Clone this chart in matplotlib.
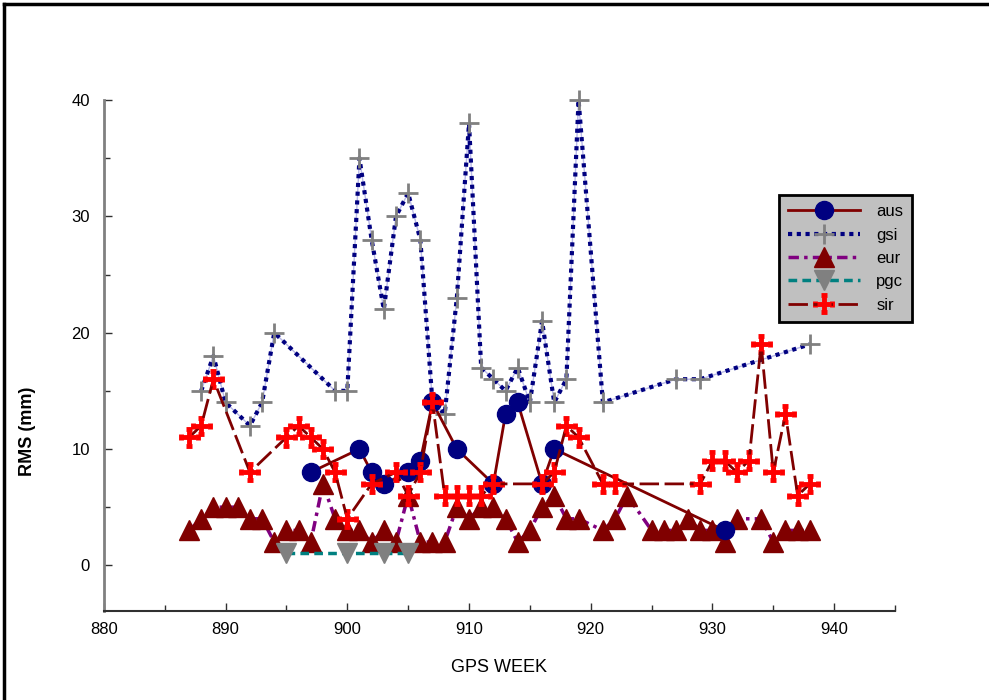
import matplotlib.pyplot as plt
from matplotlib.lines import Line2D
from matplotlib.ticker import MultipleLocator

plt.rcParams['font.family'] = ['Liberation Sans', 'DejaVu Sans']

# RMS per GPS week for each analysis centre
aus_week = [897, 901, 902, 903, 905, 906, 907, 909, 912, 913, 914, 916, 917, 931]
aus_rms = [8, 10, 8, 7, 8, 9, 14, 10, 7, 13, 14, 7, 10, 3]

gsi_week = [888, 889, 890, 892, 893, 894, 899, 900, 901, 902, 903, 904, 905, 906,
            907, 908, 909, 910, 911, 912, 913, 914, 915, 916, 917, 918, 919, 921,
            927, 929, 938]
gsi_rms = [15, 18, 14, 12, 14, 20, 15, 15, 35, 28, 22, 30, 32, 28,
           14, 13, 23, 38, 17, 16, 15, 17, 14, 21, 14, 16, 40, 14,
           16, 16, 19]

eur_week = [887, 888, 889, 890, 891, 892, 893, 894, 895, 896, 897, 898, 899, 900,
            901, 902, 903, 904, 905, 906, 907, 908, 909, 910, 911, 912, 913, 914,
            915, 916, 917, 918, 919, 921, 922, 923, 925, 926, 927, 928, 929, 930,
            931, 932, 934, 935, 936, 937, 938]
eur_rms = [3, 4, 5, 5, 5, 4, 4, 2, 3, 3, 2, 7, 4, 3,
           3, 2, 3, 2, 6, 2, 2, 2, 5, 4, 5, 5, 4, 2,
           3, 5, 6, 4, 4, 3, 4, 6, 3, 3, 3, 4, 3, 3,
           2, 4, 4, 2, 3, 3, 3]

pgc_week = [895, 900, 903, 905]
pgc_rms = [1.1, 1.1, 1.1, 1.1]

sir_week = [887, 888, 889, 892, 895, 896, 897, 898, 899, 900, 902, 904, 905, 906,
            907, 908, 909, 910, 911, 912, 916, 917, 918, 919, 921, 922, 929, 930,
            931, 932, 933, 934, 935, 936, 937, 938]
sir_rms = [11, 12, 16, 8, 11, 12, 11, 10, 8, 4, 7, 8, 6, 8,
           14, 6, 6, 6, 6, 7, 7, 8, 12, 11, 7, 7, 7, 9,
           9, 8, 9, 19, 8, 13, 6, 7]

fig = plt.figure(figsize=(9.89, 7.0), dpi=100)
ax = fig.add_axes([0.105, 0.1276, 0.8, 0.7295])

ax.plot(gsi_week, gsi_rms, color='#b8b8e8', lw=1, zorder=1, clip_on=False)
gsi_line, = ax.plot(gsi_week, gsi_rms, color='#000080', ls=(0, (1, 1.1)), lw=3,
                    marker='+', ms=14, mec='#808080', mew=2, zorder=2,
                    clip_on=False, label='gsi')
eur_line, = ax.plot(eur_week, eur_rms, color='#800080', ls=(0, (3, 1.5, 1, 1.5)), lw=2.5,
                    marker='^', ms=14, mfc='#800000', mec='#800000', zorder=3,
                    label='eur')
pgc_line, = ax.plot(pgc_week, pgc_rms, color='#008080', ls=(0, (2.5, 1.5)), lw=2.5,
                    marker='v', ms=15, mfc='#808080', mec='#808080', zorder=4,
                    label='pgc')
aus_line, = ax.plot(aus_week, aus_rms, color='#800000', ls='-', lw=2,
                    marker='o', ms=13, mfc='#000080', mec='#000080', zorder=5,
                    label='aus')
sir_err = ax.errorbar(sir_week, sir_rms, xerr=0.7, yerr=0.7, color='#800000',
                      ls=(0, (7, 2)), lw=2, marker='+', ms=10, mew=3.5, mec='red',
                      ecolor='red', elinewidth=1.5, capsize=2, capthick=1.5,
                      zorder=6, label='sir')

ax.set_xlim(880, 945)
ax.set_ylim(-3.9, 40)
ax.xaxis.set_major_locator(MultipleLocator(10))
ax.xaxis.set_minor_locator(MultipleLocator(5))
ax.yaxis.set_major_locator(MultipleLocator(10))
ax.yaxis.set_minor_locator(MultipleLocator(5))
ax.tick_params(which='major', direction='in', length=6, width=1, labelsize=12,
               colors='#303030', labelcolor='black')
ax.tick_params(axis='x', which='major', pad=8)
ax.tick_params(axis='y', which='major', pad=10)
ax.tick_params(which='minor', direction='in', length=4, width=1, colors='#303030')

for side in ['top', 'right']:
    ax.spines[side].set_visible(False)
ax.spines['left'].set_color('#808080')
ax.spines['left'].set_linewidth(2)
ax.spines['bottom'].set_color('#303030')
ax.spines['bottom'].set_linewidth(1.5)

# the odd thick tick marks at 40 and 920
for t in ax.yaxis.get_major_ticks():
    if t.get_loc() == 40:
        t.tick1line.set_markeredgewidth(4)
        t.tick1line.set_color('black')
for t in ax.xaxis.get_major_ticks():
    if t.get_loc() == 920:
        t.tick1line.set_markeredgewidth(4)
        t.tick1line.set_color('black')

leg = ax.legend(handles=[aus_line, gsi_line, eur_line, pgc_line, sir_err],
                labels=['aus', 'gsi', 'eur', 'pgc', 'sir'],
                loc='upper left', bbox_to_anchor=(0.853, 0.814), borderaxespad=0,
                fontsize=12, handlelength=4.3, labelspacing=0.5, handletextpad=1.0,
                borderpad=0.55, fancybox=False, framealpha=1, edgecolor='black',
                facecolor='#c0c0c0')
leg.get_frame().set_linewidth(2)

fig.text(0.505, 1 - 668 / 700, 'GPS WEEK', ha='center', va='center', fontsize=13)
fig.text(28 / 989, 1 - 431 / 700, 'RMS (mm)', rotation=90, ha='center', va='center',
         fontsize=13, fontweight='bold')

# frame around the plot (left and top edge only show in the original)
fig.add_artist(Line2D([0.004, 0.004], [0, 0.994], transform=fig.transFigure,
                      color='black', lw=2.5))
fig.add_artist(Line2D([0.004, 1], [0.994, 0.994], transform=fig.transFigure,
                      color='black', lw=2.5))

fig.savefig('out.png', dpi=100)
